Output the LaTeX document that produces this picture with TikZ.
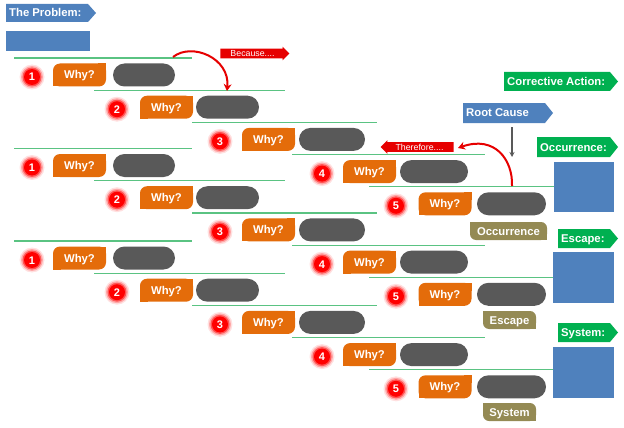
\documentclass[tikz,border=0pt]{standalone}
\usepackage{fontspec}
\setmainfont{Liberation Sans}
\usetikzlibrary{shapes.arrows,arrows.meta}
\definecolor{whyor}{RGB}{228,108,10}
\definecolor{pillg}{RGB}{89,89,89}
\definecolor{tagblue}{RGB}{79,129,189}
\definecolor{taggreen}{RGB}{0,176,80}
\definecolor{olivec}{RGB}{148,138,84}
\definecolor{lineg}{RGB}{90,195,130}
\definecolor{brightred}{RGB}{255,0,0}
\definecolor{arrred}{RGB}{230,0,0}
\newcommand\tagbox[7]{%
  \fill[#6] (#2,#3) -- ({#4-8},#3) -- (#4,{(#3+#5)/2}) -- ({#4-8},#5) -- (#2,#5) -- cycle;
  \node[lbl, anchor=west] (#1) at ({#2+3},{(#3+#5)/2}) {#7};}
\newcommand\whybox[3]{%
  \fill[whyor, rounded corners=7pt] ({#2-26.5},{#3-11.5}) rectangle ({#2+26.5},{#3+11.5});
  \fill[whyor] ({#2+18.5},{#3-11.5}) rectangle ({#2+26.5},{#3-3.5});
  \fill[whyor] ({#2-26.5},{#3+3.5}) rectangle ({#2-18.5},{#3+11.5});
  \node[lbl] (#1) at (#2,#3) {Why?};}
\newcommand\olivebox[6]{%
  \fill[olivec, rounded corners=6pt] (#2,#3) rectangle (#4,#5);
  \fill[olivec] (#2,#3) rectangle ({#2+7},{#3+7});
  \fill[olivec] ({#4-7},{#5-7}) rectangle (#4,#5);
  \node[lbl] (#1) at ({(#2+#4)/2},{(#3+#5)/2}) {#6};}
\newcommand\numcirc[4]{%
  \fill[brightred, opacity=.12] (#2,#3) circle (12.5pt);
  \fill[brightred, opacity=.25] (#2,#3) circle (11pt);
  \fill[brightred, opacity=.5] (#2,#3) circle (9.5pt);
  \node[numc] (#1) at (#2,#3) {#4};}
\begin{document}
\begin{tikzpicture}[x=1pt,y=-1pt,
  lbl/.style={text=white, font=\bfseries\fontsize{11.3}{12}\selectfont, inner sep=0pt, text height=8pt, text depth=0pt},
  numc/.style={circle, fill=brightred, minimum size=16pt, inner sep=0pt, text=white, font=\bfseries\fontsize{11}{12}\selectfont, text height=8pt, text depth=0pt},
  pill/.style={fill=pillg, rounded corners=11.5pt, minimum height=23pt, inner sep=0pt},
  gline/.style={draw=lineg, line width=1.2pt},
  bluesq/.style={fill=tagblue, anchor=north west, inner sep=0pt},
  redarrow/.style={single arrow, fill=arrred, text=white, inner sep=1.6pt, single arrow head extend=2pt, font=\fontsize{8.8}{9}\selectfont, text height=6.3pt, text depth=0pt},
  curvearrow/.style={draw=arrred, line width=2pt, -{Stealth[length=7pt,width=8pt]}},
  grayarrow/.style={draw=pillg, line width=1.2pt, -{Stealth[length=5pt,width=5pt]}}
]
\useasboundingbox (0,0) rectangle (624,428);
% problem
\tagbox{prob}{6}{4}{96}{22}{tagblue}{The Problem:}
\node[bluesq, minimum width=84pt, minimum height=20pt] (probbox) at (6,31) {};
% chains
\foreach \c/\L in {1/58,2/148.5,3/241}{
  \foreach \k/\xs/\xe/\cx/\wx/\gx/\gw in {1/14/192/32/79.5/144/62, 2/94/285/117/166.5/227.5/63, 3/192/377/220/268.5/332/66, 4/292/485/322/369.5/434/68, 5/369/555/396/445/511.5/69}{
    \pgfmathsetmacro\ly{\L+(\k-1)*32.2}
    \pgfmathsetmacro\my{\ly+17}
    \pgfmathsetmacro\cy{\ly+19}
    \draw[gline] (\xs,\ly) -- (\xe,\ly);
    \numcirc{n\c\k}{\cx}{\cy}{\k}
    \whybox{w\c\k}{\wx}{\my}
    \node[pill, minimum width=\gw pt] (g\c\k) at (\gx,\my) {};
  }
}
% labels under last pills
\olivebox{occl}{470}{222}{547}{240}{Occurrence}
\olivebox{escl}{483}{311}{536}{329}{Escape}
\olivebox{sysl}{483}{403}{536}{421}{System}
% right side tags
\tagbox{ca}{504}{72}{618}{91}{taggreen}{Corrective Action:}
\tagbox{rc}{463}{103}{553}{123}{tagblue}{Root Cause}
\tagbox{occt}{537}{137}{618}{157}{taggreen}{Occurrence:}
\tagbox{esct}{558}{229}{618}{248}{taggreen}{Escape:}
\tagbox{syst}{558}{323}{618}{342}{taggreen}{System:}
\node[bluesq, minimum width=60pt, minimum height=50pt] (occsq) at (554,162) {};
\node[bluesq, minimum width=61pt, minimum height=51pt] (escsq) at (553,252) {};
\node[bluesq, minimum width=61pt, minimum height=51pt] (syssq) at (553,347) {};
% red arrows
\node[redarrow, minimum height=69pt] (because) at (252.5,53.5) {Because....};
\node[redarrow, minimum height=73pt, shape border rotate=180] (therefore) at (419.5,147) {Therefore....};
\coordinate (b1) at (173,57);
\coordinate (b2) at (227,91);
\draw[curvearrow] (b1) .. controls (192,42) and (230,58) .. (b2);
\coordinate (t1) at (512,186);
\coordinate (t2) at (458,148);
\draw[curvearrow] (t1) .. controls (513,160) and (495,135) .. (t2);
% root cause arrow
\coordinate (rcb) at (512,127);
\coordinate (rce) at (512,157);
\draw[grayarrow] (rcb) -- (rce);
\end{tikzpicture}
\end{document}
